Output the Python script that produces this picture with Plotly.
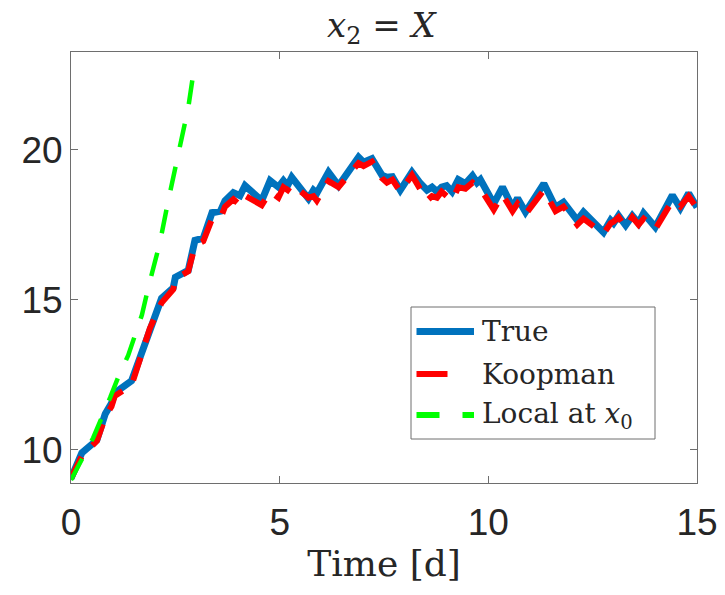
"""
x2 = X 的时间演化：真实值 / Koopman 预测 / x0 处局部线性化
"""
import plotly.graph_objects as go

# 时间 [d]
t = [0.00, 0.26, 0.62, 0.82, 0.97, 1.05, 1.45, 1.65, 1.89, 2.17,
     2.45, 2.50, 2.81, 2.97, 3.17, 3.38, 3.58, 3.69, 3.89, 4.05,
     4.17, 4.57, 4.77, 4.97, 5.09, 5.19, 5.29, 5.69, 5.81, 5.89,
     6.17, 6.41, 6.89, 7.01, 7.21, 7.45, 7.57, 7.70, 7.89, 8.17,
     8.37, 8.53, 8.65, 8.77, 8.88, 9.00, 9.13, 9.28, 9.45, 9.62,
     9.73, 9.81, 10.13, 10.34, 10.58, 10.70, 10.89, 11.33, 11.61, 11.80,
     12.13, 12.28, 12.76, 12.93, 13.00, 13.12, 13.29, 13.45, 13.60, 13.72,
     14.00, 14.41, 14.60, 14.80, 15.00]

x2_true = [9.05, 9.90, 10.33, 11.20, 11.55, 11.90, 12.30, 13.10, 14.10, 15.05,
           15.40, 15.75, 15.98, 16.98, 17.05, 17.90, 17.95, 18.30, 18.57, 18.47,
           18.80, 18.30, 18.97, 18.75, 18.97, 18.80, 19.08, 18.37, 18.65, 18.55,
           19.25, 18.80, 19.75, 19.58, 19.70, 19.15, 19.08, 19.10, 18.65, 19.25,
           18.88, 18.65, 18.75, 18.60, 18.75, 18.80, 18.60, 19.00, 18.87, 19.13,
           18.90, 19.00, 18.20, 18.75, 18.08, 18.38, 17.92, 18.87, 18.08, 18.25,
           17.65, 17.92, 17.25, 17.65, 17.55, 17.80, 17.48, 17.80, 17.55, 17.88,
           17.42, 18.48, 18.05, 18.55, 18.08]

x2_koopman = [9.05, 9.80, 10.30, 11.10, 11.45, 11.80, 12.15, 13.00, 14.05, 14.90,
              15.35, 15.70, 15.95, 16.80, 16.95, 17.70, 17.70, 18.10, 18.35, 18.15,
              18.47, 18.15, 18.60, 18.40, 18.75, 18.65, 18.85, 18.40, 18.45, 18.30,
              18.95, 18.75, 19.55, 19.45, 19.60, 19.05, 18.90, 19.00, 18.60, 19.15,
              18.70, 18.30, 18.45, 18.40, 18.60, 18.45, 18.30, 18.75, 18.70, 18.90,
              18.75, 18.70, 18.00, 18.50, 17.95, 18.20, 17.85, 18.65, 17.95, 18.10,
              17.50, 17.70, 17.20, 17.55, 17.60, 17.75, 17.40, 17.75, 17.50, 17.70,
              17.35, 18.30, 18.10, 18.45, 18.05]

t_local = [0.00, 0.53, 0.94, 1.13, 1.37, 1.58, 1.70, 1.85, 2.13, 2.33, 2.57, 2.81, 2.97]
x2_local = [9.00, 10.40, 11.75, 12.42, 13.15, 13.95, 14.50, 15.40, 16.90, 18.30, 19.80, 21.40, 22.90]

BLUE = '#0072BD'
RED = '#FF0000'
GREEN = '#00FF00'
AXIS = '#6e6e6e'
SERIF = 'DejaVu Serif'
SANS = 'Liberation Sans, Arial'

# 页面像素：body 有 8px 外边距，图本身缩小相应尺寸
PAGE_W, PAGE_H, OFF = 725, 595, 8
W, H = PAGE_W - OFF, PAGE_H - OFF
# 绘图区在页面中的位置
L, R, T, B = 71, 697, 52, 483


def px(x):
    return (x - L) / (R - L)


def py(y):
    return (B - y) / (B - T)


fig = go.Figure()
fig.add_trace(go.Scatter(x=t, y=x2_true, mode='lines', name='True',
                         line=dict(color=BLUE, width=7)))
fig.add_trace(go.Scatter(x=t, y=x2_koopman, mode='lines', name='Koopman',
                         line=dict(color=RED, width=6, dash='24px,16px')))
fig.add_trace(go.Scatter(x=t_local, y=x2_local, mode='lines', name='Local at x0',
                         line=dict(color=GREEN, width=4.5, dash='24px,20px')))

axis_common = dict(showline=True, linecolor=AXIS, linewidth=1, mirror='ticks',
                   ticks='inside', ticklen=7, tickcolor=AXIS, showgrid=False,
                   zeroline=False, automargin=False,
                   tickfont=dict(family=SANS, size=37, color='#262626'))

fig.update_layout(
    width=W, height=H,
    margin=dict(l=L - OFF, r=W - (R - OFF), t=T - OFF, b=H - (B - OFF)),
    paper_bgcolor='white', plot_bgcolor='white',
    showlegend=False,
    xaxis=dict(range=[0, 15], tickvals=[0, 5, 10, 15],
               title=dict(text='Time [d]', standoff=8,
                          font=dict(family=SERIF, size=36, color='#262626')),
               ticklabelstandoff=7, **axis_common),
    yaxis=dict(range=[8.9, 23.25], tickvals=[10, 15, 20],
               ticklabelstandoff=0, **axis_common),
)

# 标题
annotations = [dict(text='<i>x</i><sub>2</sub> = <i>X</i>', xref='paper', yref='paper',
                    x=px(382), y=py(28), xanchor='center', yanchor='middle',
                    showarrow=False,
                    font=dict(family=SERIF, size=34, color='#262626'))]

# 图例（手动绘制，匹配原图样式）
shapes = [dict(type='rect', xref='paper', yref='paper',
               x0=px(411), x1=px(655), y0=py(439), y1=py(307),
               line=dict(color=AXIS, width=1), fillcolor='white', layer='above')]
legend_rows = [
    ('True', BLUE, 7, 'solid', 331.5),
    ('Koopman', RED, 6, '31px,40px', 374),
    ('Local at <i>x</i><sub>0</sub>', GREEN, 6, '23px,23px', 415),
]
for label, color, width, dash, yc in legend_rows:
    shapes.append(dict(type='line', xref='paper', yref='paper',
                       x0=px(416.5), x1=px(474), y0=py(yc), y1=py(yc),
                       line=dict(color=color, width=width, dash=dash), layer='above'))
    annotations.append(dict(text=label, xref='paper', yref='paper',
                            x=px(480), y=py(yc), xanchor='left', yanchor='middle',
                            showarrow=False,
                            font=dict(family=SERIF, size=28, color='#262626')))
fig.update_layout(shapes=shapes, annotations=annotations)

fig.write_html('out.html')
